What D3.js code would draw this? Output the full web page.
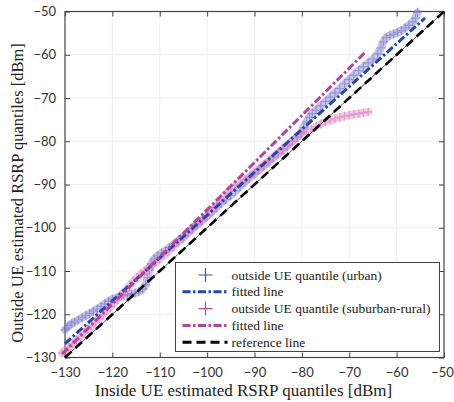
<!DOCTYPE html>
<html>
<head>
  <meta charset="utf-8">
  <script src="https://d3js.org/d3.v7.min.js"></script>
  <style>
  body { margin: 0; background: #fff; }
  </style>
</head>
<body>
<div id="chart"></div>
<script>
// quantile pairs: [inside, outside]
const urbanQ = [
  [-130,-123.6],[-129.6,-123.2],[-129.2,-122.6],[-128.6,-122.2],[-128,-121.8],[-127.2,-121.3],
  [-126.4,-120.8],[-125.6,-120.3],[-124.8,-119.8],[-124,-119.3],[-123.2,-118.8],[-122.4,-118.2],
  [-121.6,-117.6],[-120.8,-117],[-120,-116.5],[-119.2,-116.2],[-118.4,-116],[-117.6,-115.7],
  [-116.8,-115.5],[-116,-115.3],[-115.2,-115.1],[-114.4,-114.8],[-113.6,-114.2],[-113,-113.2],
  [-112.6,-111.6],[-112.2,-109.8],[-111.8,-108.3],[-111.2,-107.2],[-110.5,-106.5],[-109.6,-105.8],
  [-108.8,-105.3],[-108,-104.6],[-107,-103.8],[-106,-102.9],[-105,-102],[-104,-101],[-103,-100],
  [-102,-99.1],[-101,-98.2],[-100,-97.3],[-99,-96.3],[-98,-95.3],[-97,-94.3],[-96,-93.4],
  [-95,-92.5],[-94,-91.5],[-93,-90.4],[-92,-89.4],[-91,-88.4],[-90,-87.5],[-89,-86.6],[-88,-85.7],
  [-87,-84.8],[-86,-83.8],[-85,-82.9],[-84,-82],[-83,-81],[-82,-80],[-81,-79],[-80.2,-78],
  [-79.6,-76.8],[-79,-75.5],[-78.4,-74.4],[-77.8,-73.6],[-77,-72.8],[-76,-71.8],[-75,-70.8],
  [-74,-69.8],[-73,-68.8],[-72,-67.8],[-71,-66.7],[-70,-65.7],[-69,-64.7],[-68,-63.7],[-67,-62.8],
  [-66,-61.9],[-65,-61],[-64,-59.8],[-63.3,-58.4],[-62.8,-57],[-62.2,-56],[-61.4,-55.5],
  [-60.6,-55.2],[-59.8,-54.8],[-59,-54.4],[-58.2,-53.8],[-57.4,-53.2],[-56.6,-52.4],[-56,-51.5],
  [-55.6,-50.2]
];
const ruralQ = [
  [-130.6,-129],[-130,-128.4],[-129.2,-127.6],[-128.4,-126.8],[-127.6,-126],[-126.8,-125.2],
  [-126,-124.3],[-125.2,-123.5],[-124.4,-122.7],[-123.6,-121.8],[-122.8,-121],[-122,-120.1],
  [-121.2,-119.2],[-120.4,-118.3],[-119.6,-117.4],[-118.8,-116.4],[-118,-115.4],[-117.2,-114.4],
  [-116.4,-113.4],[-115.6,-112.4],[-114.8,-111.5],[-114,-110.7],[-113.2,-110],[-112.4,-109.3],
  [-111.6,-108.7],[-110.8,-108],[-110,-107.2],[-109,-106.3],[-108,-105.3],[-107,-104.3],
  [-106,-103.3],[-105,-102.3],[-104,-101.3],[-103,-100.3],[-102,-99.3],[-101,-98.3],[-100,-97.2],
  [-99,-96.1],[-98,-95],[-97,-93.6],[-96,-92.2],[-95,-91],[-94,-90.2],[-93,-89.6],[-92,-88.9],
  [-91,-88.1],[-90,-87.2],[-89,-86.3],[-88,-85.4],[-87,-84.5],[-86,-83.6],[-85,-82.6],[-84,-81.7],
  [-83,-80.8],[-82,-79.9],[-81,-79.1],[-80,-78.4],[-79,-77.8],[-78,-77.2],[-77,-76.6],[-76,-76],
  [-75,-75.5],[-74,-75.1],[-73,-74.8],[-72,-74.5],[-71,-74.2],[-70,-74],[-69,-73.8],[-68,-73.6],
  [-67,-73.4],[-66,-73.2]
];
const urbanFit = [[-130,-126.8],[-54,-51.5]];
const ruralFit = [[-130.6,-129.2],[-66.7,-59.5]];
const refLine  = [[-130,-130],[-50,-50]];

const ticks = [-130, -120, -110, -100, -90, -80, -70, -60, -50];
const legendItems = [
  { label: "outside UE quantile (urban)",          kind: "marker", color: "#3b4fc0" },
  { label: "fitted line",                          kind: "line",   color: "#2447a8", dash: "8,2.5,2.5,2.5" },
  { label: "outside UE quantile (suburban-rural)", kind: "marker", color: "#c04a9e" },
  { label: "fitted line",                          kind: "line",   color: "#b8439a", dash: "8,2.5,2.5,2.5" },
  { label: "reference line",                       kind: "line",   color: "#000000", dash: "9,5" }
];

const W = 454, H = 402;
const margin = { top: 11.5, right: 10, bottom: 44.5, left: 65 };
const width = W - margin.left - margin.right;
const height = H - margin.top - margin.bottom;

const svg = d3.select("#chart").append("svg")
  .attr("width", W).attr("height", H);
const g = svg.append("g").attr("transform", `translate(${margin.left},${margin.top})`);

const x = d3.scaleLinear().domain([-130, -50]).range([0, width]);
const y = d3.scaleLinear().domain([-130, -50]).range([height, 0]);

// grid
g.append("g").selectAll("line").data(ticks.slice(1, -1)).join("line")
  .attr("x1", d => x(d)).attr("x2", d => x(d)).attr("y1", 0).attr("y2", height)
  .attr("stroke", "#efefef").attr("stroke-width", 1);
g.append("g").selectAll("line").data(ticks.slice(1, -1)).join("line")
  .attr("y1", d => y(d)).attr("y2", d => y(d)).attr("x1", 0).attr("x2", width)
  .attr("stroke", "#efefef").attr("stroke-width", 1);

const tickFont = "Lato, 'Open Sans', sans-serif";
// axes, ticks pointing inward, on all four sides
const axB = g.append("g").attr("transform", `translate(0,${height})`)
  .call(d3.axisBottom(x).tickValues(ticks).tickSize(-5).tickPadding(10).tickSizeOuter(0));
const axL = g.append("g")
  .call(d3.axisLeft(y).tickValues(ticks).tickSize(-5).tickPadding(9).tickSizeOuter(0));
const axT = g.append("g")
  .call(d3.axisTop(x).tickValues(ticks).tickSize(-5).tickFormat("").tickSizeOuter(0));
const axR = g.append("g").attr("transform", `translate(${width},0)`)
  .call(d3.axisRight(y).tickValues(ticks).tickSize(-5).tickFormat("").tickSizeOuter(0));
[axB, axL, axT, axR].forEach(a => {
  a.select(".domain").remove();
  a.selectAll("line").attr("stroke", "#444");
  a.selectAll("text").style("font-family", tickFont).style("font-size", "13px").attr("fill", "#333");
});
// keep the last x label inside the picture
axB.selectAll("text").filter(d => d === -50).attr("dx", "-2");
g.append("rect").attr("width", width).attr("height", height)
  .attr("fill", "none").attr("stroke", "#444").attr("stroke-width", 1.2);

const plot = g.append("g");
const line = d3.line().x(d => x(d[0])).y(d => y(d[1]));

// quantile markers: a dense band of "+" marks
function quantiles(sel, data, band, mark) {
  sel.append("path").datum(data).attr("d", line)
    .attr("stroke", band).attr("stroke-width", 8).attr("stroke-opacity", 0.5)
    .attr("stroke-linejoin", "round").attr("stroke-linecap", "round").attr("fill", "none");
  const s = 4.5;
  sel.append("g").selectAll("path").data(data).join("path")
    .attr("d", d => `M${x(d[0]) - s},${y(d[1])}h${2 * s}M${x(d[0])},${y(d[1]) - s}v${2 * s}`)
    .attr("stroke", mark).attr("stroke-width", 1.2).attr("stroke-opacity", 0.5).attr("fill", "none");
}
quantiles(plot, urbanQ, "#8c8cd8", "#6a6ac4");
quantiles(plot, ruralQ, "#e495cc", "#d878b8");

plot.append("path").datum(refLine).attr("d", line)
  .attr("stroke", "#333").attr("stroke-width", 0.8).attr("fill", "none");
plot.append("path").datum(urbanFit).attr("d", line)
  .attr("stroke", "#2447a8").attr("stroke-width", 3).attr("stroke-dasharray", "8,2.5,2.5,2.5").attr("fill", "none");
plot.append("path").datum(ruralFit).attr("d", line)
  .attr("stroke", "#b8439a").attr("stroke-width", 3).attr("stroke-dasharray", "8,2.5,2.5,2.5").attr("fill", "none");
plot.append("path").datum(refLine).attr("d", line)
  .attr("stroke", "#000").attr("stroke-width", 2.6).attr("stroke-dasharray", "9,5").attr("fill", "none");

// legend
const lg = svg.append("g").attr("transform", "translate(175.5,262.5)");
lg.append("rect").attr("width", 264).attr("height", 89)
  .attr("fill", "#fff").attr("stroke", "#444").attr("stroke-width", 1);
legendItems.forEach((it, i) => {
  const cy = 12.5 + i * 16.8;
  const row = lg.append("g").attr("transform", `translate(0,${cy})`);
  if (it.kind === "marker") {
    row.append("path").attr("d", "M23,0h14M30,-7v14")
      .attr("stroke", it.color).attr("stroke-width", 1.2);
  } else {
    row.append("line").attr("x1", 7).attr("x2", 52).attr("y1", 0).attr("y2", 0)
      .attr("stroke", it.color).attr("stroke-width", 3).attr("stroke-dasharray", it.dash);
  }
  row.append("text").attr("x", 56).attr("y", 4.5)
    .style("font-family", "'Liberation Serif', serif").style("font-size", "13.5px")
    .attr("fill", "#222").text(it.label);
});

// axis titles
svg.append("text").attr("x", margin.left + width / 2 - 11).attr("y", 396)
  .attr("text-anchor", "middle")
  .style("font-family", "'Liberation Serif', serif").style("font-size", "17px").attr("fill", "#222")
  .text("Inside UE estimated RSRP quantiles [dBm]");
svg.append("text").attr("transform", "translate(23,193) rotate(-90)")
  .attr("text-anchor", "middle")
  .style("font-family", "'Liberation Serif', serif").style("font-size", "16.5px").attr("fill", "#222")
  .text("Outside UE estimated RSRP quantiles [dBm]");
</script>
</body>
</html>
